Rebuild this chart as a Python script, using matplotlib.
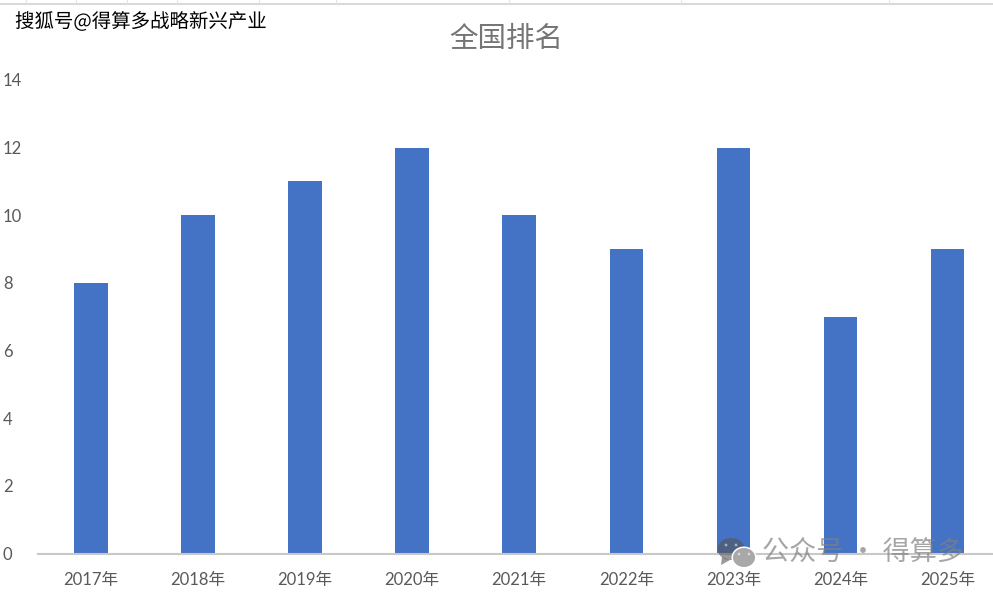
import matplotlib
matplotlib.use("Agg")
from matplotlib import pyplot as plt
from matplotlib.lines import Line2D
from matplotlib.patches import Circle, Ellipse, Polygon
import matplotlib.patheffects as pe

years = ["2017年", "2018年", "2019年", "2020年", "2021年", "2022年", "2023年", "2024年", "2025年"]
ranks = [8, 10, 11, 12, 10, 9, 12, 7, 9]
y_ticks = [0, 2, 4, 6, 8, 10, 12, 14]
header_ticks = [26, 76, 127, 177, 259, 336, 509, 681, 889]

W, H = 993, 594
plt.rcParams['font.family'] = ['Noto Sans CJK SC', 'DejaVu Sans']
tick_font = ['Lato', 'Noto Sans CJK SC']

fig = plt.figure(figsize=(W / 100, H / 100), dpi=100, facecolor='white')
ax = fig.add_axes([37.5 / W, 1 - 553.5 / H, (W - 37.5) / W, (553.5 - 80) / H])

step = 107.05
ax.bar(range(len(ranks)), ranks, width=33.5 / step, color='#4472C4', zorder=2)
ax.set_xlim(-0.5, -0.5 + (W - 37.5) / step)
ax.set_ylim(0, 14)

for side in ['top', 'right', 'left']:
    ax.spines[side].set_visible(False)
ax.spines['bottom'].set_color('#c8c8c8')
ax.spines['bottom'].set_linewidth(1.5)

ax.set_xticks(range(len(years)))
ax.set_xticklabels(years, family=tick_font)
ax.set_yticks(y_ticks)
ax.set_yticklabels([str(v) for v in y_ticks], family=tick_font)
ax.tick_params(axis='both', length=0, labelsize=12, labelcolor='#595959')
ax.tick_params(axis='x', pad=13)
ax.tick_params(axis='y', pad=0)
for lab in ax.get_yticklabels():
    lab.set_horizontalalignment('left')
    lab.set_x(-37.5 / (W - 37.5) + 3 / W)

# spreadsheet gridline along the top edge
fig.add_artist(Line2D([0, 1], [1 - 3.5 / H] * 2, color='#d9d9d9', lw=1.5))
for x in header_ticks:
    fig.add_artist(Line2D([x / W] * 2, [1 - 3 / H, 1], color='#e4e4e4', lw=0.8))

fig.text(506 / W, 1 - 38.5 / H, "全国排名", ha='center', va='center', fontsize=20.5,
         color='#757575', fontweight='light')

fig.text(15 / W, 1 - 22 / H, "搜狐号@得算多战略新兴产业", ha='left', va='center', fontsize=14,
         color='black', fontweight='medium',
         path_effects=[pe.withStroke(linewidth=1.5, foreground='white')])

# wechat style mark and account name over the lower right corner
icon = fig.add_axes([0, 0, 1, 1], facecolor='none')
icon.set_xlim(0, W)
icon.set_ylim(H, 0)
icon.axis('off')
icon.add_patch(Ellipse((731, 549), 27, 22, color='#555555', alpha=0.6, lw=0, zorder=3))
icon.add_patch(Polygon([[722, 557], [721, 565], [730, 560]], color='#555555', alpha=0.6, lw=0, zorder=3))
for x in (726, 736):
    icon.add_patch(Circle((x, 545), 1.4, color='#ffffff', alpha=0.5, lw=0, zorder=4))
icon.add_patch(Ellipse((744, 557.5), 25, 22, color='#ffffff', lw=0, zorder=4))
icon.add_patch(Ellipse((744, 557.5), 22, 19, color='#a8a8a8', lw=0, zorder=5))
for x in (739, 749):
    icon.add_patch(Circle((x, 554), 1.3, color='#ffffff', alpha=0.6, lw=0, zorder=6))
fig.text(863 / W, 1 - 553 / H, "公众号 · 得算多", ha='center', va='center', fontsize=19.5,
         color='#808080', alpha=0.7)

fig.savefig("out.png", dpi=100)
